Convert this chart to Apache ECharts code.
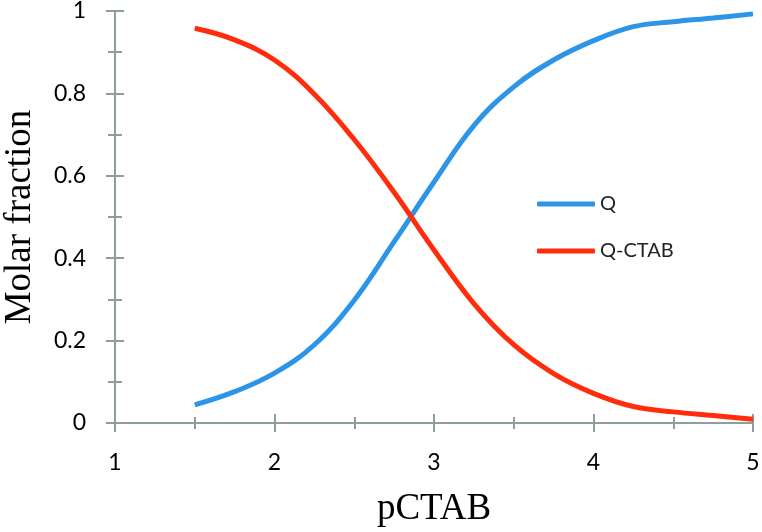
<!DOCTYPE html>
<html>
<head>
<meta charset="utf-8">
<script src="https://cdn.jsdelivr.net/npm/echarts@6/dist/echarts.min.js"></script>
<style>
  html, body { margin: 0; padding: 0; background: #fff; }
  #chart { width: 762px; height: 532px; }
</style>
</head>
<body>
<div id="chart"></div>
<script>
// values
const pCTAB = [1.5, 1.75, 2, 2.25, 2.5, 2.75, 3, 3.25, 3.5, 3.75, 4, 4.25, 4.5, 4.75, 5];
const qFraction = [0.044, 0.076, 0.121, 0.19, 0.298, 0.44, 0.585, 0.722, 0.816, 0.881, 0.928, 0.962, 0.974, 0.983, 0.993];
const qCtabFraction = [0.958, 0.93, 0.881, 0.798, 0.688, 0.56, 0.42, 0.29, 0.19, 0.12, 0.072, 0.04, 0.027, 0.018, 0.009];

const axisColor = '#8E9E9E';
const labelFont = 'Lato, "Open Sans", sans-serif';
const titleFont = '"Liberation Serif", "DejaVu Serif", serif';

function pairs(xs, ys) {
	return xs.map((x, i) => [x, ys[i]]);
}

const chart = echarts.init(document.getElementById('chart'));

// each axis is drawn twice: once with ticks outside, once inside, so the ticks cross the line
const xBase = {
	type: 'value',
	min: 1,
	max: 5,
	interval: 1,
	position: 'bottom',
	splitLine: { show: false },
	minorSplitLine: { show: false }
};
const yBase = {
	type: 'value',
	min: 0,
	max: 1,
	interval: 0.2,
	position: 'left',
	splitLine: { show: false },
	minorSplitLine: { show: false }
};

const option = {
	animation: false,
	backgroundColor: '#fff',
	grid: { left: 115, right: 9, top: 11, bottom: 109, outerBoundsMode: 'none' },
	legend: {
		orient: 'vertical',
		left: 537,
		top: 194,
		padding: 0,
		itemWidth: 58,
		itemHeight: 5,
		itemGap: 27,
		icon: 'roundRect',
		data: ['Q', 'Q-CTAB'],
		textStyle: { fontFamily: labelFont, fontSize: 20, color: '#222', lineHeight: 20 }
	},
	xAxis: [
		Object.assign({}, xBase, {
			name: 'pCTAB',
			nameLocation: 'middle',
			nameGap: 68,
			nameTextStyle: { fontFamily: titleFont, fontSize: 37, color: '#000' },
			axisLine: { show: true, lineStyle: { color: axisColor, width: 2 } },
			axisTick: { show: true, inside: false, length: 9, lineStyle: { color: axisColor, width: 2 } },
			minorTick: { show: true, splitNumber: 2, length: 6, lineStyle: { color: axisColor, width: 2 } },
			axisLabel: { margin: 28, fontFamily: labelFont, fontSize: 23, color: '#000' }
		}),
		Object.assign({}, xBase, {
			axisLine: { show: false },
			axisTick: { show: true, inside: true, length: 9, lineStyle: { color: axisColor, width: 2 } },
			minorTick: { show: true, splitNumber: 2, length: 6, lineStyle: { color: axisColor, width: 2 } },
			axisLabel: { show: false }
		})
	],
	yAxis: [
		Object.assign({}, yBase, {
			name: 'Molar fraction',
			nameLocation: 'middle',
			nameGap: 76,
			nameTextStyle: { fontFamily: titleFont, fontSize: 37, color: '#000' },
			axisLine: { show: true, lineStyle: { color: axisColor, width: 2 } },
			axisTick: { show: true, inside: false, length: 9, lineStyle: { color: axisColor, width: 2 } },
			minorTick: { show: true, splitNumber: 2, length: 7, lineStyle: { color: axisColor, width: 2 } },
			axisLabel: { margin: 29, fontFamily: labelFont, fontSize: 23, color: '#000' }
		}),
		Object.assign({}, yBase, {
			axisLine: { show: false },
			axisTick: { show: true, inside: true, length: 9, lineStyle: { color: axisColor, width: 2 } },
			minorTick: { show: true, splitNumber: 2, length: 7, lineStyle: { color: axisColor, width: 2 } },
			axisLabel: { show: false }
		})
	],
	series: [
		{
			name: 'Q',
			type: 'line',
			smooth: 0.4,
			showSymbol: false,
			symbol: 'none',
			color: '#2D95E8',
			lineStyle: { width: 5, color: '#2D95E8' },
			data: pairs(pCTAB, qFraction)
		},
		{
			name: 'Q-CTAB',
			type: 'line',
			smooth: 0.4,
			showSymbol: false,
			symbol: 'none',
			color: '#FF2D0C',
			lineStyle: { width: 5, color: '#FF2D0C' },
			data: pairs(pCTAB, qCtabFraction)
		}
	]
};

chart.setOption(option);
</script>
</body>
</html>
